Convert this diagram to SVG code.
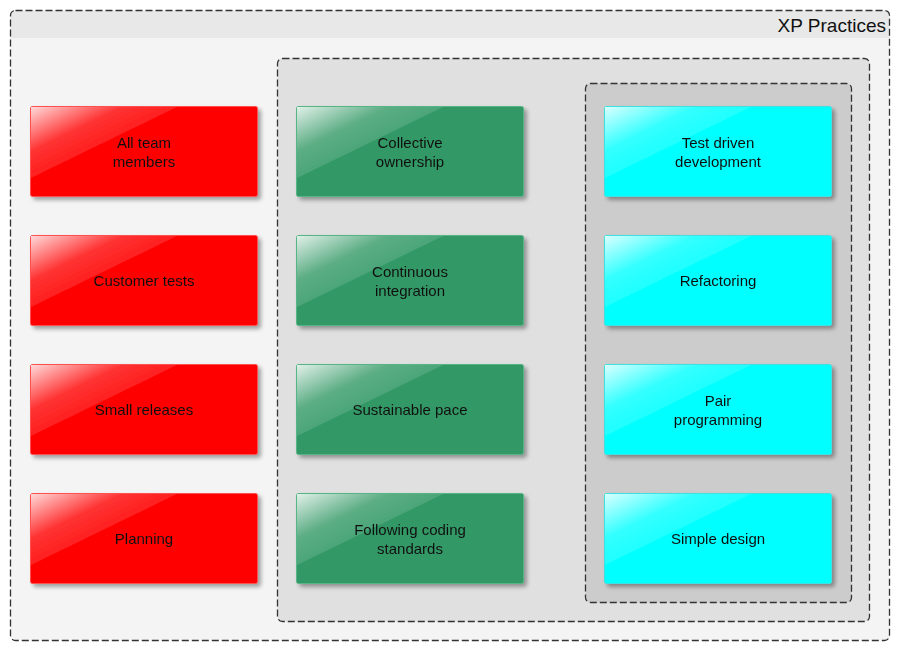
<svg xmlns="http://www.w3.org/2000/svg" width="900" height="651" viewBox="0 0 900 651">
<defs>
<linearGradient id="gloss" x1="0" y1="0" x2="0.7" y2="0.7">
<stop offset="0" stop-color="#fff" stop-opacity="0.85"/>
<stop offset="0.45" stop-color="#fff" stop-opacity="0.2"/>
<stop offset="1" stop-color="#fff" stop-opacity="0.04"/>
</linearGradient>
<filter id="sh" x="-10%" y="-10%" width="125%" height="130%">
<feGaussianBlur in="SourceAlpha" stdDeviation="2"/>
<feOffset dx="3" dy="3" result="b"/>
<feComponentTransfer><feFuncA type="linear" slope="0.35"/></feComponentTransfer>
<feMerge><feMergeNode/><feMergeNode in="SourceGraphic"/></feMerge>
</filter>
</defs>
<style>
.cont{stroke:#333;stroke-width:1.3;stroke-dasharray:7,3}
.red{fill:#ff0000;stroke:#ff5050;stroke-width:1}
.green{fill:#339966;stroke:#55b585;stroke-width:1}
.cyan{fill:#00ffff;stroke:#40e0e0;stroke-width:1}
.t{font-family:"Liberation Sans",Arial,sans-serif;font-size:15px;fill:#111;text-anchor:middle}
.title{font-family:"Liberation Sans",Arial,sans-serif;font-size:19px;fill:#111;text-anchor:end}
</style>
<g id="xp-practices">
<rect x="10.5" y="10.5" width="879" height="630" rx="5" fill="#f4f4f4"/>
<path d="M15.5 10.5 H884.5 A5 5 0 0 1 889.5 15.5 V38 H10.5 V15.5 A5 5 0 0 1 15.5 10.5 Z" fill="#e8e8e8"/>
<rect x="10.5" y="10.5" width="879" height="630" rx="5" fill="none" class="cont"/>
<text class="title" x="886" y="32">XP Practices</text>
</g>
<g id="middle-group">
<rect x="277.5" y="58.5" width="592" height="563" rx="5" fill="#e0e0e0" class="cont"/>
</g>
<g id="inner-group">
<rect x="585.5" y="83.5" width="266" height="519" rx="5" fill="#cccccc" class="cont"/>
</g>
<g id="connectors"></g>

<g id="n1" filter="url(#sh)"><rect class="red" x="30.5" y="106.5" width="227" height="90" rx="2"/><path d="M31 107 H177 L31 178 Z" fill="url(#gloss)"/><text class="t" x="144" y="148">All team</text><text class="t" x="144" y="167">members</text></g>
<g id="n2" filter="url(#sh)"><rect class="red" x="30.5" y="235.5" width="227" height="90" rx="2"/><path d="M31 236 H177 L31 307 Z" fill="url(#gloss)"/><text class="t" x="144" y="286">Customer tests</text></g>
<g id="n3" filter="url(#sh)"><rect class="red" x="30.5" y="364.5" width="227" height="90" rx="2"/><path d="M31 365 H177 L31 436 Z" fill="url(#gloss)"/><text class="t" x="144" y="415">Small releases</text></g>
<g id="n4" filter="url(#sh)"><rect class="red" x="30.5" y="493.5" width="227" height="90" rx="2"/><path d="M31 494 H177 L31 565 Z" fill="url(#gloss)"/><text class="t" x="144" y="544">Planning</text></g>

<g id="n5" filter="url(#sh)"><rect class="green" x="296.5" y="106.5" width="227" height="90" rx="2"/><path d="M297 107 H443 L297 178 Z" fill="url(#gloss)"/><text class="t" x="410" y="148">Collective</text><text class="t" x="410" y="167">ownership</text></g>
<g id="n6" filter="url(#sh)"><rect class="green" x="296.5" y="235.5" width="227" height="90" rx="2"/><path d="M297 236 H443 L297 307 Z" fill="url(#gloss)"/><text class="t" x="410" y="277">Continuous</text><text class="t" x="410" y="296">integration</text></g>
<g id="n7" filter="url(#sh)"><rect class="green" x="296.5" y="364.5" width="227" height="90" rx="2"/><path d="M297 365 H443 L297 436 Z" fill="url(#gloss)"/><text class="t" x="410" y="415">Sustainable pace</text></g>
<g id="n8" filter="url(#sh)"><rect class="green" x="296.5" y="493.5" width="227" height="90" rx="2"/><path d="M297 494 H443 L297 565 Z" fill="url(#gloss)"/><text class="t" x="410" y="535">Following coding</text><text class="t" x="410" y="554">standards</text></g>

<g id="n9" filter="url(#sh)"><rect class="cyan" x="604.5" y="106.5" width="227" height="90" rx="2"/><path d="M605 107 H751 L605 178 Z" fill="url(#gloss)"/><text class="t" x="718" y="148">Test driven</text><text class="t" x="718" y="167">development</text></g>
<g id="n10" filter="url(#sh)"><rect class="cyan" x="604.5" y="235.5" width="227" height="90" rx="2"/><path d="M605 236 H751 L605 307 Z" fill="url(#gloss)"/><text class="t" x="718" y="286">Refactoring</text></g>
<g id="n11" filter="url(#sh)"><rect class="cyan" x="604.5" y="364.5" width="227" height="90" rx="2"/><path d="M605 365 H751 L605 436 Z" fill="url(#gloss)"/><text class="t" x="718" y="406">Pair</text><text class="t" x="718" y="425">programming</text></g>
<g id="n12" filter="url(#sh)"><rect class="cyan" x="604.5" y="493.5" width="227" height="90" rx="2"/><path d="M605 494 H751 L605 565 Z" fill="url(#gloss)"/><text class="t" x="718" y="544">Simple design</text></g>
</svg>
